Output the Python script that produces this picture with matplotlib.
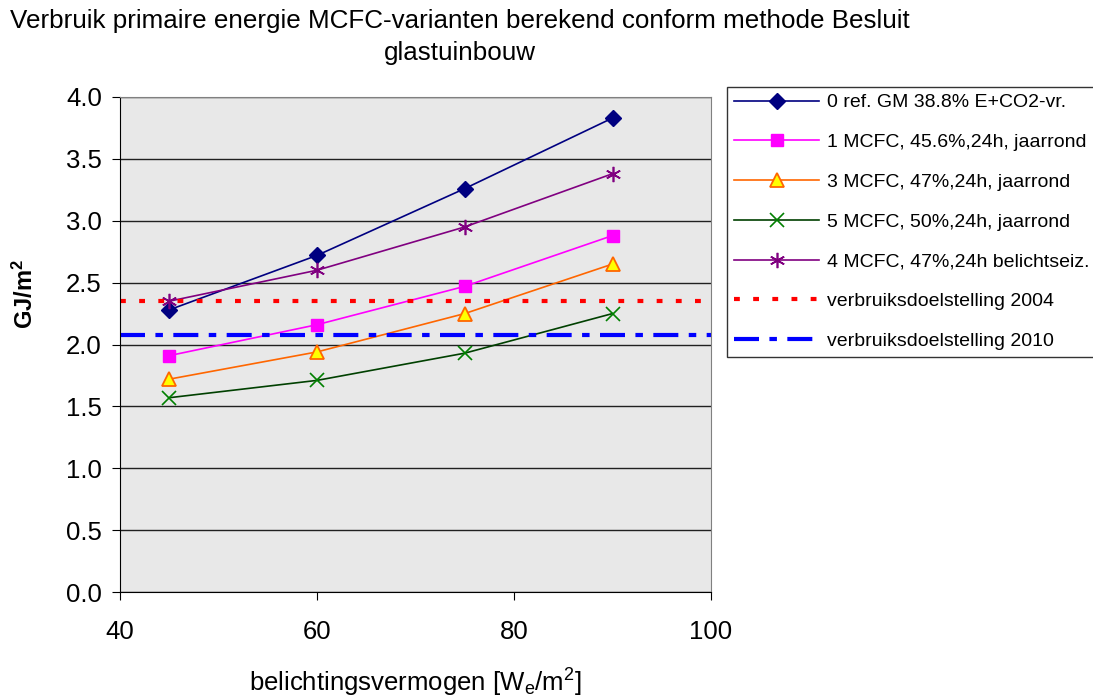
import numpy as np
import matplotlib
matplotlib.use('Agg')
import matplotlib.pyplot as plt

plt.rcParams['font.family'] = ['Liberation Sans', 'DejaVu Sans']
plt.rcParams['mathtext.fontset'] = 'custom'
plt.rcParams['mathtext.rm'] = 'Liberation Sans'
plt.rcParams['mathtext.it'] = 'Liberation Sans'
plt.rcParams['mathtext.bf'] = 'Liberation Sans:bold'

# belichtingsvermogen (W_e/m2)
x_vals = [45, 60, 75, 90]

# primary energy use, GJ/m2
ref_gm = [2.28, 2.72, 3.26, 3.83]
mcfc_1 = [1.91, 2.16, 2.47, 2.88]
mcfc_3 = [1.72, 1.94, 2.25, 2.65]
mcfc_5 = [1.57, 1.71, 1.93, 2.25]
mcfc_4 = [2.35, 2.60, 2.95, 3.38]

target_2004 = 2.35
target_2010 = 2.08

labels = [
    '0 ref. GM 38.8% E+CO2-vr.',
    '1 MCFC, 45.6%,24h, jaarrond',
    '3 MCFC, 47%,24h, jaarrond',
    '5 MCFC, 50%,24h, jaarrond',
    '4 MCFC, 47%,24h belichtseiz.',
    'verbruiksdoelstelling 2004',
    'verbruiksdoelstelling 2010',
]


def main():
    W, H = 1093, 700
    fig = plt.figure(figsize=(W / 100, H / 100), dpi=100)
    ax = fig.add_axes([120 / W, 1 - 592 / H, (711 - 120) / W, (592 - 97) / H])
    ax.set_facecolor('#E8E8E8')

    ax.plot(x_vals, ref_gm, color='#000080', lw=1.2, marker='D', ms=8,
            mfc='#000080', mec='#000080', label=labels[0])
    ax.plot(x_vals, mcfc_1, color='#FF00FF', lw=1.2, marker='s', ms=9,
            mfc='#FF00FF', mec='#FF00FF', label=labels[1])
    ax.plot(x_vals, mcfc_3, color='#FF6600', lw=1.2, marker='^', ms=10,
            mfc='#FFFF00', mec='#FF6600', mew=1.3, label=labels[2])
    ax.plot(x_vals, mcfc_5, color='#004000', lw=1.2, marker='x', ms=10,
            mec='#008000', mew=1.2, label=labels[3])
    ax.plot(x_vals, mcfc_4, color='#800080', lw=1.2, marker=(6, 2, 0), ms=11,
            mec='#800080', mew=1.2, label=labels[4])
    ax.axhline(target_2004, color='#FF0000', lw=3, ls=(0, (1.4, 3.2)),
               label=labels[5])
    ax.axhline(target_2010, color='#0000FF', lw=3, ls=(0, (6, 2.5, 1.8, 2.5)),
               label=labels[6])

    ax.set_xlim(40, 100)
    ax.set_ylim(0, 4)
    ax.set_xticks(np.arange(40, 101, 20))
    yt = np.arange(0, 4.01, 0.5)
    ax.set_yticks(yt)
    ax.set_yticklabels([f'{v:.1f}' for v in yt])
    ax.yaxis.grid(True, color='#202020', lw=1)
    ax.set_axisbelow(True)
    for s in ax.spines.values():
        s.set_color('#808080')
    ax.spines['left'].set_color('#000000')
    ax.spines['bottom'].set_color('#000000')
    ax.tick_params(labelsize=18.5, direction='out', length=6, color='black')
    ax.tick_params(axis='y', pad=7)
    ax.tick_params(axis='x', pad=14)

    fig.text(25 / W, 1 - 294 / H, r'$\mathbf{GJ/m^2}$', fontsize=17,
             rotation=90, ha='center', va='center')
    fig.text(415 / W, 1 - 683 / H, 'belichtingsvermogen [W$_e$/m$^2$]',
             fontsize=18.5, ha='center', va='center')
    fig.text(460 / W, 1 - 37 / H,
             'Verbruik primaire energie MCFC-varianten berekend conform methode Besluit\nglastuinbouw',
             fontsize=18.7, ha='center', va='center', linespacing=1.4)

    leg = ax.legend(loc='upper left', bbox_to_anchor=(727 / W, 1 - 87 / H),
                    bbox_transform=fig.transFigure, fontsize=14, frameon=True,
                    fancybox=False, edgecolor='black', handlelength=4.4,
                    labelspacing=1.14, borderpad=0.35, borderaxespad=0,
                    handletextpad=0.4)
    leg.get_frame().set_linewidth(1.0)

    fig.savefig('out.png', dpi=100)


if __name__ == '__main__':
    main()
